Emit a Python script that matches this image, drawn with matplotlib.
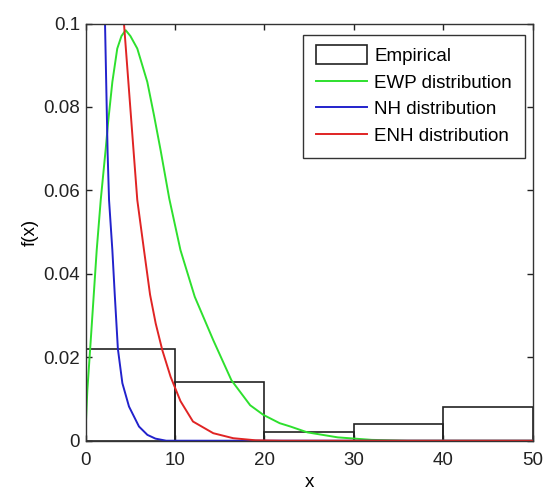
import matplotlib
matplotlib.use("Agg")
import matplotlib.pyplot as plt
from matplotlib.patches import Patch, Rectangle
from matplotlib.legend_handler import HandlerPatch
from matplotlib.ticker import FuncFormatter

plt.rcParams['font.family'] = ['Liberation Sans', 'DejaVu Sans']

# Empirical histogram
bin_left = [0, 10, 20, 30, 40]
bin_heights = [0.022, 0.014, 0.002, 0.004, 0.008]
bin_width = 10

# EWP distribution
ewp_x = [0, 0.18, 0.56, 0.9, 1.23, 1.68, 2.24, 2.49, 2.98, 3.53, 4.0, 4.47, 5.0, 5.77,
         6.89, 7.64, 8.39, 9.35, 10.6, 12.2, 14.27, 16.3, 18.4, 19.87, 21.7, 22.9, 24.8,
         28.2, 32, 36, 50]
ewp_y = [0.0034, 0.012, 0.024, 0.035, 0.0457, 0.0577, 0.070, 0.076, 0.086, 0.094, 0.097,
         0.0984, 0.097, 0.094, 0.086, 0.078, 0.0695, 0.058, 0.0457, 0.0345, 0.0241, 0.0145,
         0.0085, 0.0062, 0.0042, 0.0034, 0.002, 0.0008, 0.0002, 0.0, 0.0]

# NH distribution
nh_x = [2.16, 2.45, 2.61, 2.98, 3.25, 3.6, 4.1, 4.84, 5.96, 6.9, 7.8, 9.0, 50]
nh_y = [0.1, 0.069, 0.0577, 0.0457, 0.035, 0.022, 0.0138, 0.0082, 0.0034, 0.0014, 0.0005,
        0.0, 0.0]

# ENH distribution
enh_x = [4.28, 5.37, 5.77, 6.52, 7.2, 7.83, 8.57, 9.5, 10.6, 12.0, 14.27, 16.5, 19.0, 22.0, 50]
enh_y = [0.1, 0.069, 0.0577, 0.0457, 0.035, 0.0281, 0.0217, 0.0153, 0.0095, 0.0046, 0.0018,
         0.0006, 0.0001, 0.0, 0.0]

fig = plt.figure(figsize=(5.47, 4.9), dpi=100)
ax = fig.add_axes([0.1567, 0.1006, 0.817, 0.8514])

ax.bar(bin_left, bin_heights, width=bin_width, align='edge', facecolor='none',
       edgecolor='#222222', linewidth=1.2)
ax.plot(ewp_x, ewp_y, color='#2ee02e', linewidth=1.4)
ax.plot(nh_x, nh_y, color='#2222cc', linewidth=1.4)
ax.plot(enh_x, enh_y, color='#e02424', linewidth=1.4)

ax.set_xlim(0, 50)
ax.set_ylim(0, 0.1)
ax.set_xticks([0, 10, 20, 30, 40, 50])
ax.set_yticks([0, 0.02, 0.04, 0.06, 0.08, 0.1])
ax.yaxis.set_major_formatter(FuncFormatter(lambda v, p: '0' if v == 0 else ('%g' % round(v, 2))))
ax.tick_params(direction='in', top=True, right=True, labelsize=13.5, length=4, width=1,
               colors='#222222')
ax.tick_params(axis='x', pad=8)
ax.tick_params(axis='y', pad=4)
for s in ax.spines.values():
    s.set_color('#333333')
    s.set_linewidth(1.0)

ax.set_xlabel('x', fontsize=13.5, labelpad=4)
ax.set_ylabel('f(x)', fontsize=13.5, labelpad=3)


def make_rect(legend, orig_handle, xdescent, ydescent, width, height, fontsize):
    return Rectangle((-xdescent, -ydescent - height * 0.22), width, height * 1.45)


emp_handle = Patch(facecolor='none', edgecolor='#222222', linewidth=1.2)
handles = [emp_handle,
           plt.Line2D([], [], color='#2ee02e', linewidth=1.4),
           plt.Line2D([], [], color='#2222cc', linewidth=1.4),
           plt.Line2D([], [], color='#e02424', linewidth=1.4)]
labels = ['Empirical', 'EWP distribution', 'NH distribution', 'ENH distribution']
leg = ax.legend(handles, labels, loc='upper right', bbox_to_anchor=(0.983, 0.973),
                borderaxespad=0, fontsize=13.5, handlelength=2.75, handletextpad=0.37,
                labelspacing=0.5, fancybox=False, framealpha=1, borderpad=0.7,
                handler_map={emp_handle: HandlerPatch(patch_func=make_rect)})
leg.get_frame().set_edgecolor('#333333')
leg.get_frame().set_linewidth(1.0)

fig.savefig('out.png', dpi=100)
